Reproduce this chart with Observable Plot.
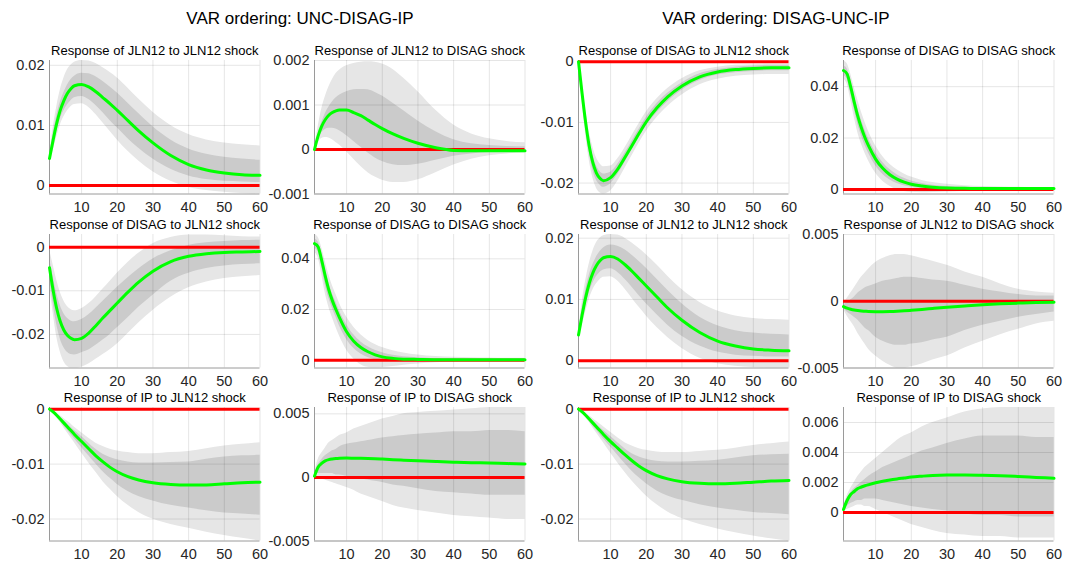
<!DOCTYPE html>
<html>
<head>
<meta charset="utf-8">
<script src="https://cdn.jsdelivr.net/npm/d3@7"></script>
<script src="https://cdn.jsdelivr.net/npm/@observablehq/plot@0.6"></script>
<style>
  html, body { margin: 0; padding: 0; background: #fff; }
  #fig { position: relative; width: 1065px; height: 566px; overflow: hidden;
         font-family: "Liberation Sans", Arial, sans-serif; }
  #fig svg { position: absolute; }
</style>
</head>
<body>
<div id="fig"></div>
<script>
// Impulse-response horizons (months)
const horizons = [1,2,3,4,5,6,7,8,10,12,14,16,18,20,23,26,30,35,40,45,50,55,60];
const xTicks = [10,20,30,40,50,60];

// ---- VAR ordering UNC-DISAG-IP ----
// JLN12 to JLN12 shock
const uJJ_med  = [0.0045,0.0075,0.0103,0.0125,0.0141,0.0153,0.0161,0.0166,0.0168,0.0164,0.0156,0.0146,0.0136,0.0125,0.0108,0.0091,0.0071,0.0050,0.0035,0.0026,0.0021,0.0018,0.0017];
const uJJ_hi90 = [0.0048,0.0095,0.0130,0.0158,0.0178,0.0192,0.0200,0.0205,0.0208,0.0207,0.0203,0.0196,0.0188,0.0179,0.0162,0.0144,0.0122,0.0100,0.0085,0.0076,0.0071,0.0068,0.0066];
const uJJ_hi68 = [0.0046,0.0085,0.0115,0.0138,0.0154,0.0167,0.0176,0.0182,0.0187,0.0186,0.0181,0.0173,0.0164,0.0154,0.0137,0.0120,0.0098,0.0076,0.0061,0.0052,0.0047,0.0044,0.0042];
const uJJ_lo68 = [0.0043,0.0066,0.0090,0.0110,0.0124,0.0134,0.0141,0.0146,0.0148,0.0143,0.0133,0.0121,0.0108,0.0096,0.0078,0.0062,0.0044,0.0027,0.0016,0.0010,0.0007,0.0006,0.0005];
const uJJ_lo90 = [0.0041,0.0058,0.0080,0.0100,0.0114,0.0124,0.0131,0.0135,0.0136,0.0130,0.0118,0.0104,0.0090,0.0076,0.0057,0.0041,0.0023,0.0007,-0.0003,-0.0008,-0.0011,-0.0013,-0.0014];

// JLN12 to DISAG shock
const uJD_med  = [0,0.0003,0.00052,0.00067,0.00077,0.00083,0.00087,0.00089,0.00089,0.00083,0.00076,0.00066,0.00056,0.00047,0.00035,0.00025,0.00014,0.00004,-0.00002,-0.00003,-0.00003,-0.00003,-0.00003];
const uJD_hi90 = [0,0.0005,0.0009,0.00118,0.0014,0.00157,0.0017,0.00178,0.00188,0.00193,0.00196,0.00197,0.00196,0.00192,0.0018,0.0016,0.0013,0.00088,0.00055,0.00035,0.00024,0.00018,0.00015];
const uJD_hi68 = [0,0.00035,0.0006,0.0008,0.00095,0.00107,0.00116,0.00122,0.0013,0.00134,0.00135,0.00134,0.00128,0.0012,0.00104,0.00087,0.00064,0.0004,0.00022,0.00013,0.00009,0.00007,0.00006];
const uJD_lo68 = [0,0.00022,0.00037,0.00045,0.00048,0.00048,0.00046,0.00042,0.00031,0.00018,0.00005,-0.00008,-0.00019,-0.00027,-0.00034,-0.00036,-0.00033,-0.00024,-0.00015,-0.0001,-0.00007,-0.00006,-0.00005];
const uJD_lo90 = [0,0.00015,0.00025,0.00027,0.00026,0.00022,0.00016,0.0001,-0.00005,-0.00022,-0.00038,-0.00052,-0.00062,-0.00069,-0.00074,-0.00074,-0.00068,-0.00052,-0.00035,-0.00022,-0.00014,-0.0001,-0.00008];

// DISAG to JLN12 shock
const uDJ_med  = [-0.0047,-0.0098,-0.0140,-0.0170,-0.0190,-0.0202,-0.0209,-0.0212,-0.0209,-0.0197,-0.0180,-0.0162,-0.0145,-0.0128,-0.0103,-0.0080,-0.0055,-0.0033,-0.0021,-0.0015,-0.0012,-0.0011,-0.0010];
const uDJ_hi90 = [-0.0005,-0.0040,-0.0075,-0.0103,-0.0123,-0.0136,-0.0143,-0.0146,-0.0141,-0.0130,-0.0114,-0.0096,-0.0078,-0.0060,-0.0035,-0.0014,0.0008,0.0022,0.0028,0.0028,0.0026,0.0024,0.0023];
const uDJ_hi68 = [-0.0025,-0.0067,-0.0105,-0.0133,-0.0152,-0.0163,-0.0169,-0.0171,-0.0166,-0.0155,-0.0140,-0.0124,-0.0108,-0.0092,-0.0070,-0.0050,-0.0027,-0.0008,0.0004,0.0010,0.0013,0.0015,0.0016];
const uDJ_lo68 = [-0.0068,-0.0128,-0.0177,-0.0210,-0.0230,-0.0241,-0.0246,-0.0247,-0.0242,-0.0236,-0.0225,-0.0213,-0.0200,-0.0185,-0.0162,-0.0138,-0.0110,-0.0078,-0.0060,-0.0049,-0.0043,-0.0040,-0.0038];
const uDJ_lo90 = [-0.0085,-0.0150,-0.0205,-0.0240,-0.0262,-0.0273,-0.0277,-0.0277,-0.0275,-0.0268,-0.0257,-0.0246,-0.0235,-0.0222,-0.0198,-0.0174,-0.0145,-0.0115,-0.0093,-0.0080,-0.0072,-0.0068,-0.0065];

// DISAG to DISAG shock
const uDD_med  = [0.0460,0.0448,0.0395,0.0333,0.0278,0.0235,0.0200,0.0168,0.0112,0.0075,0.0050,0.0033,0.0021,0.0013,0.0007,0.0004,0.0003,0.0002,0.0002,0.0002,0.0002,0.0002,0.0002];
const uDD_hi90 = [0.0496,0.0485,0.0445,0.0390,0.0338,0.0295,0.0260,0.0225,0.0170,0.0130,0.0100,0.0078,0.0062,0.0050,0.0037,0.0028,0.0020,0.0014,0.0011,0.0009,0.0008,0.0007,0.0007];
const uDD_hi68 = [0.0478,0.0467,0.0420,0.0360,0.0305,0.0262,0.0230,0.0195,0.0140,0.0100,0.0072,0.0053,0.0039,0.0029,0.0019,0.0013,0.0009,0.0006,0.0005,0.0004,0.0004,0.0004,0.0004];
const uDD_lo68 = [0.0442,0.0428,0.0368,0.0298,0.0245,0.0205,0.0170,0.0135,0.0082,0.0047,0.0024,0.0010,0.0002,-0.0003,-0.0005,-0.0005,-0.0004,-0.0002,-0.0001,0,0,0,0];
const uDD_lo90 = [0.0425,0.0405,0.0340,0.0265,0.0210,0.0168,0.0130,0.0095,0.0040,0.0005,-0.0018,-0.0028,-0.0030,-0.0029,-0.0025,-0.0020,-0.0015,-0.0010,-0.0006,-0.0004,-0.0003,-0.0002,-0.0002];

// IP to JLN12 shock
const uIJ_med  = [0,-0.0005,-0.0011,-0.0018,-0.0025,-0.0032,-0.0039,-0.0046,-0.0059,-0.0072,-0.0085,-0.0096,-0.0106,-0.0114,-0.0123,-0.0129,-0.0134,-0.0137,-0.0138,-0.0138,-0.0136,-0.0134,-0.0133];
const uIJ_hi90 = [0,-0.0003,-0.0007,-0.0012,-0.0017,-0.0022,-0.0027,-0.0033,-0.0043,-0.0053,-0.0062,-0.0068,-0.0073,-0.0076,-0.0079,-0.0081,-0.0081,-0.0079,-0.0077,-0.0072,-0.0067,-0.0064,-0.0061];
const uIJ_hi68 = [0,-0.0004,-0.0009,-0.0015,-0.0021,-0.0027,-0.0033,-0.0039,-0.0050,-0.0062,-0.0073,-0.0082,-0.0088,-0.0092,-0.0096,-0.0098,-0.0098,-0.0097,-0.0096,-0.0091,-0.0087,-0.0085,-0.0084];
const uIJ_lo68 = [0,-0.0006,-0.0013,-0.0021,-0.0030,-0.0038,-0.0046,-0.0054,-0.0070,-0.0085,-0.0100,-0.0114,-0.0126,-0.0137,-0.0150,-0.0159,-0.0167,-0.0175,-0.0180,-0.0185,-0.0189,-0.0191,-0.0193];
const uIJ_lo90 = [0,-0.0007,-0.0015,-0.0024,-0.0034,-0.0043,-0.0052,-0.0061,-0.0080,-0.0098,-0.0115,-0.0132,-0.0146,-0.0159,-0.0175,-0.0188,-0.0200,-0.0210,-0.0217,-0.0224,-0.0230,-0.0235,-0.0240];

// IP to DISAG shock
const uID_med  = [0.0001,0.0008,0.0011,0.0013,0.0014,0.00145,0.00148,0.0015,0.00152,0.00151,0.0015,0.00148,0.00146,0.00144,0.0014,0.00136,0.00131,0.00125,0.0012,0.00116,0.00113,0.00109,0.00105];
const uID_hi90 = [0.0003,0.0014,0.0019,0.0023,0.0027,0.0029,0.0031,0.0033,0.0035,0.0038,0.0040,0.0042,0.0044,0.0046,0.0048,0.0050,0.0051,0.0052,0.0053,0.0054,0.0055,0.0055,0.0055];
const uID_hi68 = [0.0002,0.0010,0.0014,0.0017,0.0019,0.0021,0.0022,0.0024,0.0026,0.0027,0.0028,0.0029,0.0030,0.0031,0.0032,0.0033,0.0034,0.0035,0.0036,0.0036,0.0037,0.0037,0.0036];
const uID_lo68 = [0,0.0003,0.0003,0.0003,0.0003,0.0003,0.0002,0.0002,0.0001,0,-0.0001,-0.0002,-0.0003,-0.0004,-0.0006,-0.0007,-0.0009,-0.0011,-0.0012,-0.0013,-0.0014,-0.0014,-0.0014];
const uID_lo90 = [0,0,-0.0001,-0.0002,-0.0003,-0.0004,-0.0005,-0.0006,-0.0008,-0.0010,-0.0013,-0.0015,-0.0017,-0.0019,-0.0022,-0.0024,-0.0026,-0.0028,-0.0030,-0.0031,-0.0032,-0.0033,-0.0033];

// ---- VAR ordering DISAG-UNC-IP ----
// DISAG to JLN12 shock
const dDJ_med  = [0,-0.0052,-0.0100,-0.0139,-0.0166,-0.0183,-0.0192,-0.0196,-0.0191,-0.0177,-0.0158,-0.0138,-0.0118,-0.0099,-0.0076,-0.0058,-0.0040,-0.0025,-0.0017,-0.0013,-0.0011,-0.0010,-0.0010];
const dDJ_hi90 = [0,-0.0040,-0.0080,-0.0115,-0.0140,-0.0158,-0.0168,-0.0173,-0.0172,-0.0160,-0.0142,-0.0122,-0.0102,-0.0083,-0.0061,-0.0044,-0.0028,-0.0015,-0.0009,-0.0006,-0.0005,-0.0004,-0.0004];
const dDJ_hi68 = [0,-0.0046,-0.0091,-0.0128,-0.0154,-0.0171,-0.0181,-0.0185,-0.0182,-0.0169,-0.0151,-0.0131,-0.0111,-0.0092,-0.0069,-0.0052,-0.0035,-0.0020,-0.0013,-0.0009,-0.0007,-0.0006,-0.0006];
const dDJ_lo68 = [0,-0.0058,-0.0109,-0.0150,-0.0178,-0.0195,-0.0203,-0.0207,-0.0201,-0.0186,-0.0166,-0.0145,-0.0125,-0.0106,-0.0084,-0.0066,-0.0047,-0.0031,-0.0022,-0.0018,-0.0016,-0.0015,-0.0015];
const dDJ_lo90 = [0,-0.0064,-0.0119,-0.0162,-0.0191,-0.0208,-0.0216,-0.0218,-0.0213,-0.0197,-0.0176,-0.0155,-0.0134,-0.0115,-0.0092,-0.0074,-0.0055,-0.0038,-0.0029,-0.0024,-0.0022,-0.0021,-0.0021];

// DISAG to DISAG shock
const dDD_med  = [0.0463,0.0450,0.0400,0.0340,0.0285,0.0240,0.0202,0.0170,0.0118,0.0082,0.0057,0.0040,0.0028,0.0020,0.0013,0.0008,0.0005,0.0004,0.0003,0.0003,0.0003,0.0003,0.0003];
const dDD_hi90 = [0.0500,0.0490,0.0450,0.0398,0.0348,0.0302,0.0262,0.0226,0.0170,0.0128,0.0098,0.0076,0.0060,0.0048,0.0035,0.0027,0.0020,0.0014,0.0011,0.0009,0.0008,0.0007,0.0007];
const dDD_hi68 = [0.0482,0.0470,0.0425,0.0368,0.0315,0.0270,0.0232,0.0198,0.0144,0.0105,0.0077,0.0057,0.0043,0.0033,0.0023,0.0016,0.0011,0.0008,0.0006,0.0005,0.0005,0.0005,0.0005];
const dDD_lo68 = [0.0445,0.0430,0.0375,0.0312,0.0255,0.0210,0.0172,0.0142,0.0092,0.0059,0.0037,0.0023,0.0014,0.0008,0.0003,0.0001,0,0,0.0001,0.0001,0.0001,0.0001,0.0001];
const dDD_lo90 = [0.0430,0.0410,0.0350,0.0282,0.0222,0.0178,0.0142,0.0112,0.0064,0.0032,0.0012,-0.0001,-0.0008,-0.0011,-0.0013,-0.0012,-0.0010,-0.0007,-0.0005,-0.0003,-0.0002,-0.0001,-0.0001];

// JLN12 to JLN12 shock
const dJJ_med  = [0.0042,0.0074,0.0103,0.0126,0.0143,0.0155,0.0163,0.0168,0.0170,0.0166,0.0157,0.0146,0.0134,0.0122,0.0104,0.0086,0.0066,0.0046,0.0032,0.0024,0.0019,0.0017,0.0016];
const dJJ_hi90 = [0.0045,0.0094,0.0130,0.0158,0.0178,0.0192,0.0200,0.0204,0.0206,0.0205,0.0200,0.0192,0.0183,0.0173,0.0156,0.0138,0.0116,0.0095,0.0081,0.0073,0.0069,0.0067,0.0066];
const dJJ_hi68 = [0.0043,0.0084,0.0115,0.0139,0.0156,0.0169,0.0178,0.0184,0.0189,0.0187,0.0181,0.0172,0.0162,0.0151,0.0133,0.0115,0.0093,0.0071,0.0057,0.0049,0.0045,0.0043,0.0042];
const dJJ_lo68 = [0.0040,0.0064,0.0089,0.0111,0.0126,0.0137,0.0144,0.0148,0.0150,0.0144,0.0133,0.0120,0.0106,0.0093,0.0075,0.0058,0.0040,0.0024,0.0014,0.0009,0.0007,0.0006,0.0006];
const dJJ_lo90 = [0.0038,0.0056,0.0079,0.0100,0.0115,0.0125,0.0132,0.0136,0.0137,0.0130,0.0117,0.0102,0.0087,0.0073,0.0054,0.0038,0.0020,0.0004,-0.0005,-0.0009,-0.0011,-0.0012,-0.0012];

// JLN12 to DISAG shock
const dJD_med  = [-0.0004,-0.00052,-0.0006,-0.00066,-0.0007,-0.00073,-0.00075,-0.00077,-0.00078,-0.00078,-0.00077,-0.00075,-0.00072,-0.00068,-0.00061,-0.00054,-0.00045,-0.00035,-0.00026,-0.00019,-0.00014,-0.0001,-0.00008];
const dJD_hi90 = [-0.0002,0.0002,0.0006,0.0010,0.0014,0.0018,0.0021,0.0024,0.0029,0.0032,0.0034,0.0035,0.0035,0.0034,0.0032,0.0030,0.0027,0.0022,0.0018,0.0013,0.0009,0.0007,0.0006];
const dJD_hi68 = [-0.0003,-0.0001,0.0001,0.0003,0.0006,0.0008,0.0010,0.0011,0.0013,0.0015,0.0016,0.0017,0.0018,0.0018,0.0017,0.0016,0.0015,0.0012,0.0009,0.0007,0.0005,0.0004,0.0004];
const dJD_lo68 = [-0.0005,-0.0008,-0.0010,-0.0012,-0.0014,-0.0017,-0.0020,-0.0022,-0.0027,-0.0030,-0.0032,-0.0033,-0.0033,-0.0032,-0.0031,-0.0029,-0.0027,-0.0022,-0.0018,-0.0015,-0.0012,-0.0010,-0.0008];
const dJD_lo90 = [-0.0006,-0.0011,-0.0015,-0.0019,-0.0024,-0.0028,-0.0032,-0.0036,-0.0041,-0.0045,-0.0048,-0.0050,-0.0050,-0.0049,-0.0047,-0.0044,-0.0041,-0.0035,-0.0030,-0.0025,-0.0021,-0.0017,-0.0015];

// IP to JLN12 shock
const dIJ_med  = [0,-0.0005,-0.0011,-0.0018,-0.0025,-0.0032,-0.0039,-0.0046,-0.0059,-0.0071,-0.0083,-0.0094,-0.0104,-0.0112,-0.0121,-0.0127,-0.0132,-0.0135,-0.0136,-0.0135,-0.0133,-0.0131,-0.0130];
const dIJ_hi90 = [0,-0.0003,-0.0007,-0.0012,-0.0017,-0.0022,-0.0027,-0.0032,-0.0042,-0.0052,-0.0061,-0.0067,-0.0072,-0.0075,-0.0078,-0.0079,-0.0079,-0.0077,-0.0075,-0.0071,-0.0066,-0.0063,-0.0060];
const dIJ_hi68 = [0,-0.0004,-0.0009,-0.0015,-0.0021,-0.0027,-0.0033,-0.0039,-0.0050,-0.0061,-0.0072,-0.0081,-0.0087,-0.0091,-0.0095,-0.0096,-0.0096,-0.0095,-0.0093,-0.0089,-0.0085,-0.0083,-0.0082];
const dIJ_lo68 = [0,-0.0006,-0.0013,-0.0021,-0.0030,-0.0038,-0.0046,-0.0054,-0.0069,-0.0084,-0.0099,-0.0113,-0.0125,-0.0136,-0.0149,-0.0158,-0.0166,-0.0174,-0.0180,-0.0184,-0.0188,-0.0190,-0.0192];
const dIJ_lo90 = [0,-0.0007,-0.0015,-0.0024,-0.0034,-0.0043,-0.0052,-0.0061,-0.0080,-0.0098,-0.0115,-0.0131,-0.0145,-0.0158,-0.0174,-0.0187,-0.0199,-0.0210,-0.0218,-0.0225,-0.0231,-0.0236,-0.0240];

// IP to DISAG shock
const dID_med  = [0.0002,0.0008,0.0012,0.0014,0.0016,0.0017,0.00178,0.00185,0.00198,0.00208,0.00217,0.00224,0.0023,0.00236,0.00242,0.00247,0.0025,0.0025,0.00248,0.00245,0.0024,0.00234,0.00228];
const dID_hi90 = [0.0004,0.0011,0.0016,0.0020,0.0024,0.0027,0.0030,0.0032,0.0036,0.0040,0.0044,0.0048,0.0051,0.0053,0.0057,0.0060,0.0063,0.0067,0.0069,0.0070,0.0070,0.0070,0.0070];
const dID_hi68 = [0.0003,0.0009,0.0013,0.0016,0.0018,0.0020,0.0022,0.0024,0.0027,0.0030,0.0032,0.0034,0.0036,0.0038,0.0041,0.0043,0.0046,0.0049,0.0051,0.0051,0.0051,0.0050,0.0050];
const dID_lo68 = [0.0001,0.0004,0.0006,0.0007,0.0008,0.0008,0.0009,0.0009,0.0009,0.0008,0.0007,0.0006,0.0005,0.0004,0.0003,0.0002,0.0001,-0.0001,-0.0002,-0.0002,-0.0003,-0.0003,-0.0003];
const dID_lo90 = [0,0.0002,0.0003,0.0004,0.0005,0.0005,0.0004,0.0004,0.0002,0,-0.0002,-0.0004,-0.0006,-0.0008,-0.0010,-0.0012,-0.0014,-0.0015,-0.0016,-0.0016,-0.0017,-0.0017,-0.0017];

// Panel grid: [column, row, title, y domain, y ticks, series]
const panelList = [
  [0, 0, "Response of JLN12 to JLN12 shock", [-0.0014, 0.0208], [0, 0.01, 0.02], [uJJ_med, uJJ_lo68, uJJ_hi68, uJJ_lo90, uJJ_hi90]],
  [1, 0, "Response of JLN12 to DISAG shock", [-0.001, 0.002], [-0.001, 0, 0.001, 0.002], [uJD_med, uJD_lo68, uJD_hi68, uJD_lo90, uJD_hi90]],
  [0, 1, "Response of DISAG to JLN12 shock", [-0.0277, 0.0029], [-0.02, -0.01, 0], [uDJ_med, uDJ_lo68, uDJ_hi68, uDJ_lo90, uDJ_hi90]],
  [1, 1, "Response of DISAG to DISAG shock", [-0.0031, 0.0496], [0, 0.02, 0.04], [uDD_med, uDD_lo68, uDD_hi68, uDD_lo90, uDD_hi90]],
  [0, 2, "Response of IP to JLN12 shock", [-0.0240, 0.0003], [-0.02, -0.01, 0], [uIJ_med, uIJ_lo68, uIJ_hi68, uIJ_lo90, uIJ_hi90]],
  [1, 2, "Response of IP to DISAG shock", [-0.005, 0.0055], [-0.005, 0, 0.005], [uID_med, uID_lo68, uID_hi68, uID_lo90, uID_hi90]],
  [2, 0, "Response of DISAG to JLN12 shock", [-0.0218, 0.0002], [-0.02, -0.01, 0], [dDJ_med, dDJ_lo68, dDJ_hi68, dDJ_lo90, dDJ_hi90]],
  [3, 0, "Response of DISAG to DISAG shock", [-0.0018, 0.0502], [0, 0.02, 0.04], [dDD_med, dDD_lo68, dDD_hi68, dDD_lo90, dDD_hi90]],
  [2, 1, "Response of JLN12 to JLN12 shock", [-0.0012, 0.0206], [0, 0.01, 0.02], [dJJ_med, dJJ_lo68, dJJ_hi68, dJJ_lo90, dJJ_hi90]],
  [3, 1, "Response of JLN12 to DISAG shock", [-0.005, 0.005], [-0.005, 0, 0.005], [dJD_med, dJD_lo68, dJD_hi68, dJD_lo90, dJD_hi90]],
  [2, 2, "Response of IP to JLN12 shock", [-0.0240, 0.0003], [-0.02, -0.01, 0], [dIJ_med, dIJ_lo68, dIJ_hi68, dIJ_lo90, dIJ_hi90]],
  [3, 2, "Response of IP to DISAG shock", [-0.0019, 0.0070], [0, 0.002, 0.004, 0.006], [dID_med, dID_lo68, dID_hi68, dID_lo90, dID_hi90]]
];

const orderingTitles = [
  ["VAR ordering: UNC-DISAG-IP", 300],
  ["VAR ordering: DISAG-UNC-IP", 776]
];

// Layout of the subplot grid (px)
const colLeft = [49, 313.5, 578, 842.5];
const rowTop = [60, 233.5, 407];
const plotW = 210.5, plotH = 133.5;
const mL = 50, mR = 12, mT = 20, mB = 25;
const fontStack = "'Liberation Sans', Arial, Helvetica, sans-serif";
const tickFont = 14.5;

const fig = document.getElementById("fig");

// Ordering headers
const head = d3.create("svg").attr("width", 1065).attr("height", 40).style("left", "0px").style("top", "0px");
head.selectAll("text").data(orderingTitles).join("text")
  .attr("x", d => d[1]).attr("y", 24).attr("text-anchor", "middle")
  .attr("font-family", fontStack).attr("font-size", 17).attr("fill", "#000")
  .text(d => d[0]);
fig.appendChild(head.node());

const fmt = d => String(d);

for (const [col, row, title, yDomain, yTicks, series] of panelList) {
  const [med, lo68, hi68, lo90, hi90] = series;
  const rows = horizons.map((h, i) => ({h, med: med[i], lo68: lo68[i], hi68: hi68[i], lo90: lo90[i], hi90: hi90[i]}));

  const svg = Plot.plot({
    width: mL + plotW + mR,
    height: mT + plotH + mB,
    marginLeft: mL, marginRight: mR, marginTop: mT, marginBottom: mB,
    style: {fontFamily: fontStack, color: "#262626", background: "transparent", overflow: "visible"},
    x: {domain: [1, 60], label: null},
    y: {domain: yDomain, label: null},
    marks: [
      Plot.areaY(rows, {x: "h", y1: "lo90", y2: "hi90", fill: "#e6e6e6", curve: "monotone-x"}),
      Plot.areaY(rows, {x: "h", y1: "lo68", y2: "hi68", fill: "#cbcbcb", curve: "monotone-x"}),
      Plot.gridX(xTicks, {stroke: "#000", strokeOpacity: 0.1}),
      Plot.gridY(yTicks, {stroke: "#000", strokeOpacity: 0.1}),
      Plot.ruleX([1], {stroke: "#9a9a9a"}),
      Plot.ruleY([yDomain[0]], {stroke: "#9a9a9a"}),
      Plot.axisX(xTicks, {tickSize: 0, tickPadding: 8, tickFormat: fmt, label: null, fill: "#262626", fontSize: tickFont}),
      Plot.axisY(yTicks, {tickSize: 0, tickPadding: 5, tickFormat: fmt, label: null, fill: "#262626", fontSize: tickFont}),
      Plot.ruleY([0], {stroke: "#ff0000", strokeWidth: 3}),
      Plot.line(rows, {x: "h", y: "med", stroke: "#00ff00", strokeWidth: 3, curve: "monotone-x"}),
      Plot.text([title], {text: d => d, frameAnchor: "top", dy: -10, lineAnchor: "middle", fontSize: 13, fill: "#000"})
    ]
  });
  svg.style.position = "absolute";
  svg.style.left = (colLeft[col] - mL) + "px";
  svg.style.top = (rowTop[row] - mT) + "px";
  svg.style.maxWidth = "none";
  fig.appendChild(svg);
}
</script>
</body>
</html>
